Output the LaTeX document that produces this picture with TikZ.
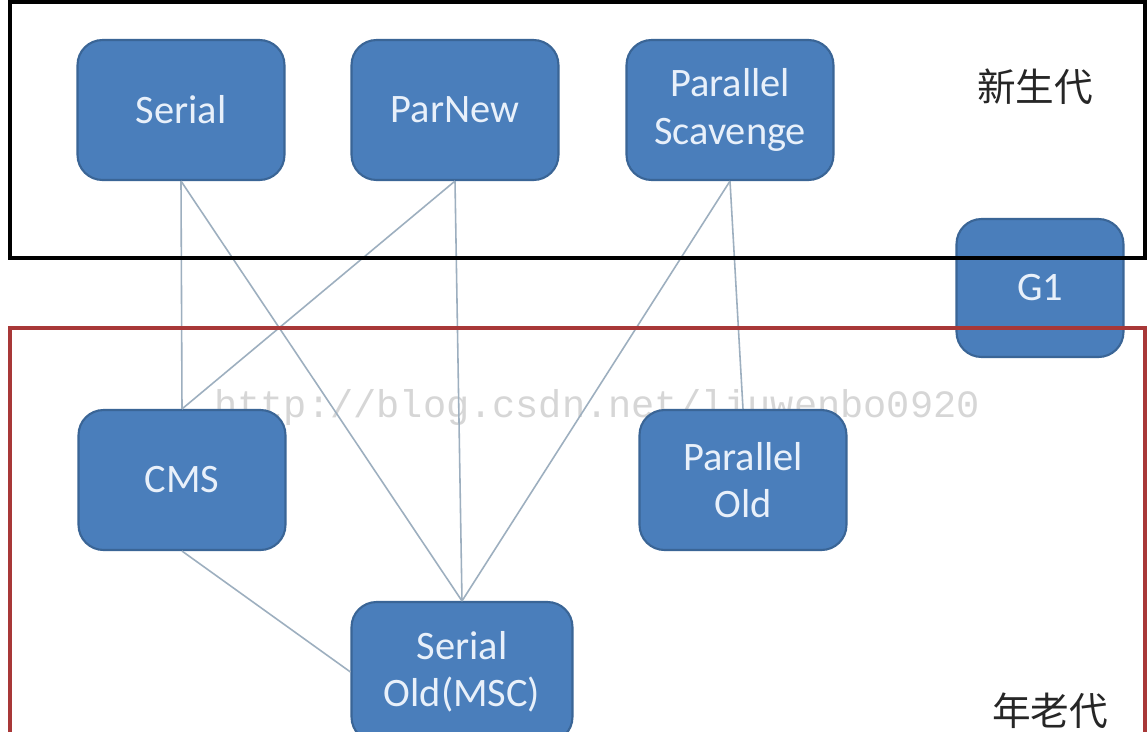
\documentclass[tikz,border=0pt]{standalone}
\usepackage{fontspec}
\setmainfont{Carlito}
\newfontfamily\cjk{Noto Sans CJK SC}
\newfontfamily\wmfont{Liberation Mono}
\definecolor{nodefill}{HTML}{4A7EBB}
\definecolor{nodeborder}{HTML}{3A6596}
\definecolor{nodetext}{HTML}{E8F0FA}
\definecolor{linkcol}{HTML}{9DAFBF}
\definecolor{oldred}{HTML}{A83838}
\tikzset{
  gcbox/.style={draw=nodeborder, line width=1.2pt, fill=nodefill, rounded corners=0.5cm,
    minimum width=4.14cm, minimum height=2.8cm, align=center, text=nodetext,
    font=\fontsize{23}{27}\selectfont, inner sep=0pt},
  link/.style={draw=linkcol, line width=0.9pt},
  genlabel/.style={font=\cjk\fontsize{22}{26}\selectfont, text=black!85},
  watermark/.style={font=\wmfont\fontsize{22}{26}\selectfont, text=black!16}
}
\begin{document}
\begin{tikzpicture}[x=0.02cm, y=-0.02cm]
\useasboundingbox (0,0) rectangle (1147,731);
\clip (0,0) rectangle (1147,731);
\fill[white] (0,0) rectangle (1147,731);
% watermark
\node[watermark, anchor=center] (wm) at (597,407) {http://blog.csdn.net/liuwenbo0920};
% nodes
\node[gcbox] (serial) at (181,110) {Serial};
\node[gcbox] (parnew) at (455,110) {ParNew};
\node[gcbox] (ps) at (730,110) {Parallel\\Scavenge};
\node[gcbox, minimum width=3.34cm, minimum height=2.76cm] (g1) at (1040,288) {G1};
\node[gcbox] (cms) at (182,480) {CMS};
\node[gcbox] (pold) at (743,480) {Parallel\\Old};
\node[gcbox, minimum width=4.42cm] (sold) at (462,672) {Serial\\Old(MSC)};
% connectors
\draw[link] (serial.south) -- (cms.north);
\draw[link] (serial.south) -- (sold.north);
\draw[link] (parnew.south) -- (cms.north);
\draw[link] (parnew.south) -- (sold.north);
\draw[link] (ps.south) -- (sold.north);
\draw[link] (ps.south) -- (pold.north);
\draw[link] (cms.south) -- (sold.west);
% generation boxes
\draw[black, line width=1.8pt] (10,2) rectangle (1145,258);
\draw[oldred, line width=1.8pt] (10,328) rectangle (1145,780);
\node[genlabel] (young) at (1035,87) {新生代};
\node[genlabel] (old) at (1050,711) {年老代};
\end{tikzpicture}
\end{document}
